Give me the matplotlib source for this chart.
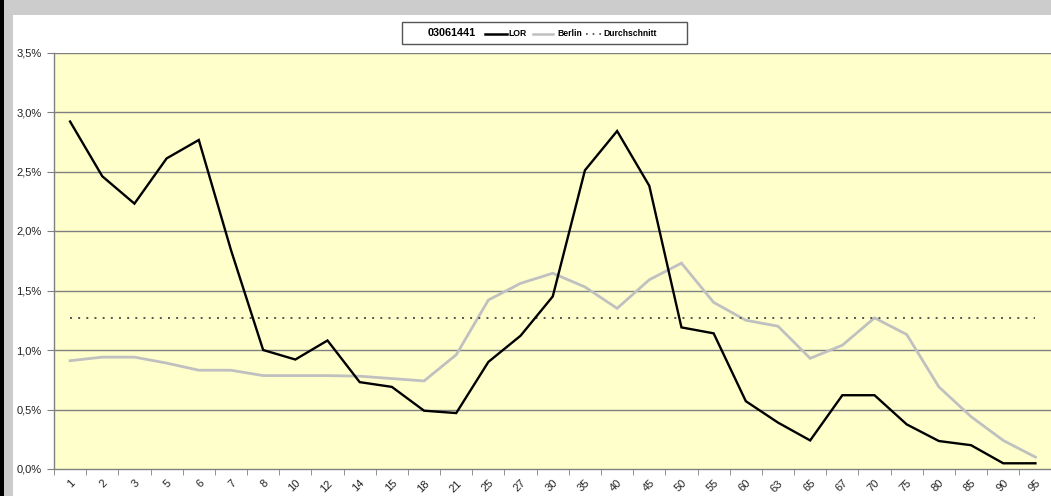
import matplotlib
matplotlib.use("Agg")
import matplotlib.pyplot as plt
from matplotlib.patches import Rectangle
from matplotlib.lines import Line2D
import matplotlib.transforms as mtransforms
import numpy as np

plt.rcParams['font.family'] = ['Liberation Sans', 'DejaVu Sans']

categories = ["1", "2", "3", "5", "6", "7", "8", "10", "12", "14", "15", "18", "21", "25", "27",
              "30", "35", "40", "45", "50", "55", "60", "63", "65", "67", "70", "75", "80", "85", "90", "95"]
lor = [2.92, 2.46, 2.23, 2.61, 2.765, 1.84, 1.00, 0.92, 1.08, 0.73, 0.69, 0.49, 0.47, 0.90, 1.12,
       1.45, 2.51, 2.84, 2.38, 1.19, 1.14, 0.57, 0.39, 0.24, 0.62, 0.62, 0.375, 0.235, 0.20, 0.048, 0.048]
berlin = [0.91, 0.94, 0.94, 0.89, 0.83, 0.83, 0.785, 0.785, 0.785, 0.78, 0.76, 0.74, 0.96, 1.42, 1.56,
          1.645, 1.53, 1.35, 1.59, 1.73, 1.40, 1.25, 1.20, 0.93, 1.04, 1.27, 1.13, 0.69, 0.44, 0.24, 0.10]
average = 1.27
yticks = [0.0, 0.5, 1.0, 1.5, 2.0, 2.5, 3.0, 3.5]
ytick_labels = ["0,0%", "0,5%", "1,0%", "1,5%", "2,0%", "2,5%", "3,0%", "3,5%"]
legend_title = "03061441"
series_names = ["LOR", "Berlin", "Durchschnitt"]

W, H = 1051, 496
fig = plt.figure(figsize=(W / 100, H / 100), dpi=100)
fig.patch.set_facecolor('white')

def rect(x0, y0, x1, y1, color):
    fig.add_artist(Rectangle((x0 / W, 1 - y1 / H), (x1 - x0) / W, (y1 - y0) / H,
                             transform=fig.transFigure, facecolor=color, edgecolor='none', zorder=0))

rect(0, 0, W, 14.5, '#cccccc')
rect(3.5, 0, 13, H, '#cccccc')
rect(0, 0, 3.5, H, '#000000')

ax_left, ax_right = 54, 1051.5
ax_top, ax_bottom = 52.5, 469
ax = fig.add_axes([ax_left / W, 1 - ax_bottom / H, (ax_right - ax_left) / W, (ax_bottom - ax_top) / H])
ax.set_facecolor('#ffffcc')

x = np.arange(len(categories))
ax.plot(x, berlin, color='#c0c0c0', lw=2.0, zorder=3, solid_joinstyle='miter')
ax.plot(x, lor, color='#000000', lw=1.7, zorder=4, solid_joinstyle='miter')
ax.plot([x[0], x[-1]], [average, average], color='#555555', lw=1.4, ls=(0, (1.0, 3.2)), zorder=3)

ax.set_xlim(-0.5, len(categories) - 0.5)
ax.set_ylim(0, 3.5)
ax.set_yticks(yticks)
ax.set_yticklabels(ytick_labels, fontsize=8, color='#222222')
for yv in yticks[1:]:
    ax.axhline(yv, color='#808080', lw=1.0, zorder=1)

ax.set_xticks(x)
ax.set_xticklabels(categories, rotation=45, ha='right', rotation_mode='anchor', fontsize=8, color='#222222')
offset = mtransforms.ScaledTranslation(-4 / 100, 0, fig.dpi_scale_trans)
for lbl in ax.get_xticklabels():
    lbl.set_transform(lbl.get_transform() + offset)
ax.set_xticks(np.arange(len(categories) + 1) - 0.5, minor=True)
ax.tick_params(axis='x', which='major', length=0, pad=6.5)
ax.tick_params(axis='x', which='minor', length=4, color='#808080', direction='out')
ax.tick_params(axis='y', length=5, color='#808080', direction='out', pad=4)

for s in ['left', 'bottom']:
    ax.spines[s].set_color('#808080')
    ax.spines[s].set_linewidth(1.0)
for s in ['top', 'right']:
    ax.spines[s].set_visible(False)

def fx(px):
    return px / W

def fy(py):
    return 1 - py / H

fig.add_artist(Rectangle((fx(402), fy(44)), (687 - 402) / W, (44 - 22) / H, transform=fig.transFigure,
                         facecolor='white', edgecolor='#555555', lw=1.0, zorder=5))
ly = 33.5
fig.text(fx(452), fy(ly), legend_title, ha='center', va='center', fontsize=7.8, fontweight='bold', zorder=6)
fig.add_artist(Line2D([fx(485), fx(507)], [fy(ly), fy(ly)], color='black', lw=1.8, transform=fig.transFigure, zorder=6))
fig.text(fx(508), fy(ly), series_names[0], ha='left', va='center', fontsize=6.2, fontweight='bold', zorder=6)
fig.add_artist(Line2D([fx(533), fx(553)], [fy(ly), fy(ly)], color='#c0c0c0', lw=1.8, transform=fig.transFigure, zorder=6))
fig.text(fx(557), fy(ly), series_names[1], ha='left', va='center', fontsize=6.2, fontweight='bold', zorder=6)
fig.add_artist(Line2D([fx(586), fx(603)], [fy(ly), fy(ly)], color='#444444', lw=1.2, ls=(0, (1.0, 3.0)),
                      transform=fig.transFigure, zorder=6))
fig.text(fx(603.5), fy(ly), series_names[2], ha='left', va='center', fontsize=6.2, fontweight='bold', zorder=6)

fig.savefig('out.png', dpi=100, facecolor=fig.get_facecolor())
